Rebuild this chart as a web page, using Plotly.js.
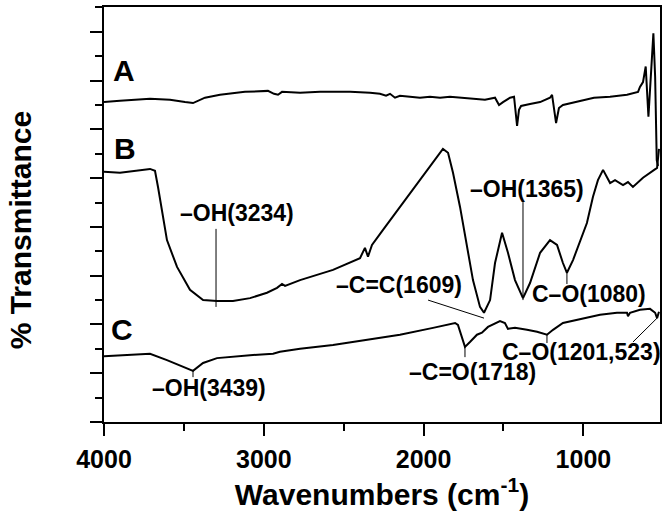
<!DOCTYPE html>
<html>
<head>
<meta charset="utf-8">
<script src="https://cdn.plot.ly/plotly-3.0.1.min.js"></script>
<style>html,body{margin:0;padding:0;background:#fff;}#chart{width:669px;height:517px;}</style>
</head>
<body>
<div id="chart"></div>
<script>
// Wavenumbers (cm-1) and transmittance (arbitrary offset units)
const waveA = [4000,3900,3712,3587,3493,3443,3368,3274,3118,2974,2936,2911,2886,2773,2648,2460,2335,2273,2235,2210,2179,2148,2085,2023,1960,1897,1835,1710,1616,1553,1528,1503,1459,1434,1415,1403,1390,1334,1271,1209,1196,1171,1153,1128,1046,934,833,727,658,646,627,610,593,577,562,551,541,533];
const transA = [6.56,6.59,6.63,6.61,6.56,6.54,6.65,6.71,6.77,6.79,6.73,6.71,6.77,6.75,6.77,6.77,6.75,6.73,6.69,6.73,6.65,6.69,6.67,6.65,6.67,6.65,6.67,6.63,6.61,6.65,6.50,6.56,6.65,6.67,6.07,6.40,6.48,6.52,6.56,6.65,6.71,6.13,6.44,6.50,6.56,6.65,6.67,6.71,6.77,6.87,6.97,7.29,6.26,7.08,7.97,7.08,5.37,5.25];

const waveB = [4000,3900,3712,3681,3662,3637,3606,3543,3462,3380,3293,3193,3086,2980,2917,2886,2867,2773,2567,2398,2367,2348,2323,2254,2148,2022,1941,1879,1847,1816,1772,1728,1691,1647,1622,1584,1553,1509,1472,1428,1378,1334,1271,1209,1165,1128,1103,1065,1034,978,940,909,877,833,802,752,721,690,627,571,539,527];
const transB = [5.13,5.11,5.19,5.15,4.82,4.29,3.73,3.18,2.71,2.50,2.48,2.48,2.54,2.65,2.75,2.83,2.79,2.91,3.12,3.36,3.57,3.39,3.63,3.94,4.41,4.96,5.31,5.60,5.52,5.11,4.41,3.59,2.91,2.36,2.24,2.50,3.26,3.88,3.47,2.91,2.54,2.85,3.47,3.73,3.63,3.26,3.06,3.32,3.59,4.08,4.62,4.96,5.17,4.90,4.96,4.86,4.92,4.82,5.01,5.13,5.21,5.60];

const waveC = [4000,3712,3606,3506,3443,3380,3293,3086,2942,2899,2773,2567,2354,2148,1941,1803,1785,1760,1741,1710,1666,1635,1597,1522,1491,1472,1428,1353,1290,1228,1190,1128,1002,896,790,727,721,708,646,583,551,539,527];
const transC = [1.35,1.40,1.27,1.13,1.05,1.21,1.31,1.37,1.40,1.44,1.50,1.58,1.68,1.79,1.93,2.03,1.99,1.74,1.54,1.64,1.79,1.83,1.95,2.07,2.03,1.91,1.93,1.89,1.85,1.79,1.89,2.03,2.13,2.20,2.24,2.24,2.17,2.24,2.30,2.32,2.24,2.13,2.26];

const tickVals = [4000,3000,2000,1000];
const tickText = ['4000','3000','2000','1000'];

// Peak labels: text, label position, marker line endpoints (wavenumber, transmittance)
const peakLabels = ['\u2013OH(3234)','\u2013OH(1365)','\u2013C=C(1609)','C\u2013O(1080)','\u2013C=O(1718)','C\u2013O(1201,523)','\u2013OH(3439)'];
const labelWave  = [3168,1353,2154,965,1697,1009,3343];
const labelTrans = [4.29,4.78,2.81,2.63,1.03,1.44,0.70];
const lineW0 = [3299,1378,1972,1103,1741,1228,539,3443];
const lineT0 = [3.96,4.51,2.50,3.06,1.54,1.79,2.13,1.05];
const lineW1 = [3299,1378,1622,1103,1741,1228,690,3443];
const lineT1 = [2.36,2.50,2.13,2.83,1.33,1.62,1.64,0.92];

const curveNames = ['A','B','C'];
const curveLabelWave = [3875,3869,3887];
const curveLabelTrans = [7.2,5.6,1.89];

const xTitle = 'Wavenumbers (cm<sup>-1</sup>)';
const yTitle = '% Transmittance';

const FONT = 'Liberation Sans, Arial, sans-serif';
const lineStyle = {color:'#000', width:2};
const traces = [
  {x:waveA, y:transA, mode:'lines', line:lineStyle, name:'A'},
  {x:waveB, y:transB, mode:'lines', line:lineStyle, name:'B'},
  {x:waveC, y:transC, mode:'lines', line:lineStyle, name:'C'}
];

const annotations = [];
peakLabels.forEach((t,i)=>annotations.push({x:labelWave[i], y:labelTrans[i], xref:'x', yref:'y', text:t, showarrow:false, xanchor:'center', yanchor:'middle', font:{family:FONT, size:23, weight:'bold', color:'#000'}}));
curveNames.forEach((t,i)=>annotations.push({x:curveLabelWave[i], y:curveLabelTrans[i], xref:'x', yref:'y', text:t, showarrow:false, xanchor:'center', yanchor:'middle', font:{family:FONT, size:30, weight:'bold', color:'#000'}}));
annotations.push({x:-0.151, y:0.462, xref:'paper', yref:'paper', text:yTitle, textangle:-90, showarrow:false, xanchor:'center', yanchor:'middle', font:{family:FONT, size:30, weight:'bold', color:'#000'}});

const shapes = lineW0.map((w,i)=>({type:'line', xref:'x', yref:'y', x0:w, y0:lineT0[i], x1:lineW1[i], y1:lineT1[i], line:{color:'#000', width:1}}));

const layout = {
  width:669, height:517,
  margin:{l:104, r:9, t:7, b:95},
  paper_bgcolor:'#fff', plot_bgcolor:'#fff',
  showlegend:false,
  font:{family:FONT, color:'#000'},
  xaxis:{
    range:[4000,520.6], tickmode:'array', tickvals:tickVals, ticktext:tickText,
    ticks:'outside', ticklen:12, tickwidth:2, tickcolor:'#000',
    minor:{dtick:500, tick0:0, ticks:'outside', ticklen:7, tickwidth:2, tickcolor:'#000'},
    showline:true, mirror:true, linewidth:2, linecolor:'#000', showgrid:false, zeroline:false,
    tickfont:{family:FONT, size:25, weight:'bold', color:'#000'}, ticklabelstandoff:2,
    title:{text:xTitle, font:{family:FONT, size:30, weight:'bold', color:'#000'}, standoff:8}
  },
  yaxis:{
    range:[0,8.51], tick0:0, dtick:1, showticklabels:false,
    ticks:'outside', ticklen:12, tickwidth:2, tickcolor:'#000',
    minor:{dtick:0.5, tick0:0, ticks:'outside', ticklen:7, tickwidth:2, tickcolor:'#000'},
    showline:true, mirror:true, linewidth:2, linecolor:'#000', showgrid:false, zeroline:false
  },
  annotations:annotations,
  shapes:shapes
};
Plotly.newPlot('chart', traces, layout, {displayModeBar:false, staticPlot:true});
</script>
</body>
</html>
